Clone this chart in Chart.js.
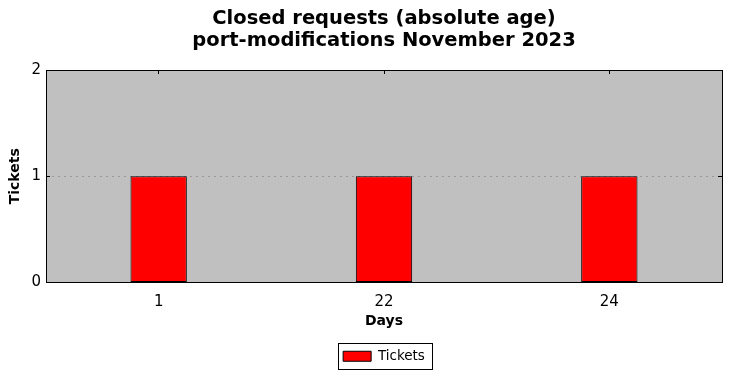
<!DOCTYPE html>
<html>
<head>
<meta charset="utf-8">
<script src="https://cdn.jsdelivr.net/npm/chart.js@4"></script>
<style>
  body { margin: 0; background: #fff; }
</style>
</head>
<body>
<canvas id="ticketChart" width="731" height="378"></canvas>
<script>
const dayLabels = ['1', '22', '24'];
const ticketCounts = [1, 1, 1];
const titleLines = ['Closed requests (absolute age)', 'port-modifications November 2023'];

// same snapping Chart.js uses for 1px grid lines
const snap = p => Math.round(p - 0.5) + 0.5;

// grey plot background, frame and the little inward tick marks
const plotFrame = {
  id: 'plotFrame',
  beforeDraw(chart) {
    const { ctx, chartArea: a } = chart;
    ctx.save();
    ctx.fillStyle = '#C0C0C0';
    ctx.fillRect(a.left, a.top, a.right - a.left, a.bottom - a.top);
    ctx.restore();
  },
  beforeDatasetsDraw(chart) {
    const { ctx, chartArea: a, scales } = chart;
    ctx.save();
    ctx.strokeStyle = '#000';
    ctx.lineWidth = 1;
    ctx.beginPath();
    scales.x.ticks.forEach((t, i) => {
      const x = snap(scales.x.getPixelForTick(i));
      ctx.moveTo(x, a.top); ctx.lineTo(x, a.top + 4);
      ctx.moveTo(x, a.bottom); ctx.lineTo(x, a.bottom - 4);
    });
    scales.y.ticks.forEach(t => {
      const y = snap(scales.y.getPixelForValue(t.value));
      ctx.moveTo(a.right, y); ctx.lineTo(a.right - 4, y);
      ctx.moveTo(a.left, y); ctx.lineTo(a.left + 4, y);
    });
    ctx.stroke();
    ctx.restore();
  },
  afterDraw(chart) {
    const { ctx, chartArea: a, legend, scales } = chart;
    ctx.save();
    ctx.strokeStyle = '#000';
    ctx.lineWidth = 1;
    const x0 = snap(a.left), x1 = snap(a.right);
    const y0 = snap(scales.y.getPixelForValue(2)), y1 = snap(scales.y.getPixelForValue(0));
    ctx.strokeRect(x0, y0, x1 - x0, y1 - y0);
    const hb = legend.legendHitBoxes[0];
    if (hb) {
      const cy = hb.top + hb.height / 2;
      ctx.strokeRect(snap(hb.left - 5), snap(cy - 12.5), Math.round(hb.width + 12), 26);
    }
    ctx.restore();
  }
};

new Chart(document.getElementById('ticketChart').getContext('2d'), {
  type: 'bar',
  data: {
    labels: dayLabels,
    datasets: [{
      label: 'Tickets',
      data: ticketCounts,
      backgroundColor: '#FF0000',
      borderColor: '#000000',
      borderWidth: 1,
      borderSkipped: false,
      barPercentage: 0.25,
      categoryPercentage: 1.0
    }]
  },
  options: {
    responsive: false,
    animation: false,
    layout: { padding: { left: 0, right: 9, top: 0, bottom: 5 } },
    plugins: {
      tooltip: { enabled: false },
      title: {
        display: true,
        fullSize: false,
        text: titleLines,
        color: '#000',
        font: { family: 'DejaVu Sans', size: 19.5, weight: 'bold', lineHeight: 1.14 },
        padding: { top: 8, bottom: 17.54 }
      },
      legend: {
        position: 'bottom',
        fullSize: false,
        labels: {
          color: '#000',
          font: { family: 'DejaVu Sans', size: 13.5 },
          boxWidth: 28,
          boxHeight: 10,
          padding: 15
        }
      }
    },
    scales: {
      x: {
        grid: { display: false },
        border: { display: false },
        ticks: { color: '#000', font: { family: 'DejaVu Sans', size: 15 }, padding: 3 },
        title: {
          display: true,
          text: 'Days',
          color: '#000',
          font: { family: 'DejaVu Sans', size: 14, weight: 'bold' },
          padding: { top: 0, bottom: 4.5 }
        },
        afterFit(scale) { scale.height = 52; }
      },
      y: {
        min: 0,
        max: 2,
        grid: { color: '#999999', drawTicks: false, lineWidth: 1 },
        border: { display: false, dash: [2, 4] },
        ticks: { stepSize: 1, color: '#000', font: { family: 'DejaVu Sans', size: 15 }, padding: 5 },
        title: {
          display: true,
          text: 'Tickets',
          color: '#000',
          font: { family: 'DejaVu Sans', size: 14, weight: 'bold' },
          padding: { top: 7, bottom: 0 }
        },
        afterFit(scale) { scale.width = 46; }
      }
    }
  },
  plugins: [plotFrame]
});
</script>
</body>
</html>
